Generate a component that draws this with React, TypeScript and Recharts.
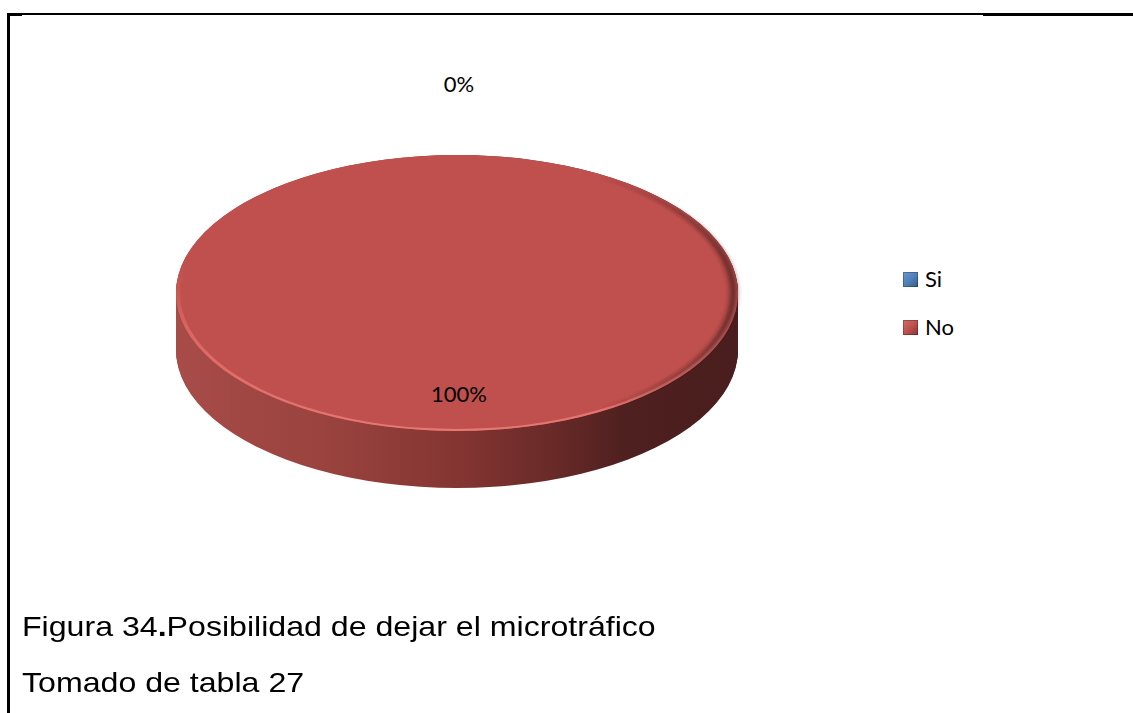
import { Cell, Legend, Pie, PieChart } from "recharts";

const CATEGORIES = ["Si", "No"];
const VALUES = [0, 100];
const COLORS = ["#4F81BD", "#C0504D"];
const CAPTION = "Figura 34";
const CAPTION_REST = "Posibilidad de dejar el microtráfico";
const SOURCE = "Tomado de tabla 27";

const data = CATEGORIES.map((name, i) => ({ name, value: VALUES[i] }));

const W = 1133;
const H = 713;
const CX = 457;
const CY = 293;
const R = 281;
const RY = 138;
const TILT = RY / R;
const DEPTH = 57;
const RADIAN = Math.PI / 180;
const NO_MARGIN = { top: 0, right: 0, bottom: 0, left: 0 };
// screen offsets for the stacked side layers, deepest first
const SIDE_LAYERS = Array.from({ length: DEPTH + 1 }, (_, i) => DEPTH - i);

const renderLabel = (p: any) => {
  const a = -p.midAngle * RADIAN;
  const inside = p.percent > 0.5;
  const rx = inside ? R * 0.735 : R + 71;
  const ry = inside ? RY * 0.735 : RY + 71;
  const x = p.cx + Math.cos(a) * rx + 2;
  const y = p.cy + Math.sin(a) * ry;
  return (
    <text
      key={`lbl-${p.index}`}
      x={x}
      y={y + 8}
      textAnchor="middle"
      fill="#000"
      fontSize={22}
      fontFamily="Lato, 'Open Sans', sans-serif"
    >
      {`${Math.round(p.percent * 100)}%`}
    </text>
  );
};

const renderLegend = ({ payload }: any) => {
  const items = [...(payload ?? [])].sort(
    (a: any, b: any) => CATEGORIES.indexOf(a.value) - CATEGORIES.indexOf(b.value)
  );
  return (
    <ul style={{ listStyle: "none", margin: 0, padding: 0 }}>
      {items.map((e: any, i: number) => (
        <li
          key={`leg-${i}`}
          style={{ display: "flex", alignItems: "center", height: 16, marginBottom: 32 }}
        >
          <span
            style={{
              display: "inline-block",
              width: 15,
              height: 15,
              marginRight: 7,
              background: `linear-gradient(135deg, rgba(255,255,255,0.18), rgba(0,0,0,0) 50%, rgba(0,0,0,0.3)), ${e.color ?? COLORS[i]}`,
              boxShadow: "inset 0 0 0 1px rgba(0,0,0,0.25)",
            }}
          />
          <span
            style={{
              fontFamily: "Lato, 'Open Sans', sans-serif",
              fontSize: 22,
              lineHeight: "16px",
              color: "#000",
            }}
          >
            {e.value}
          </span>
        </li>
      ))}
    </ul>
  );
};

export default function App() {
  return (
    <div
      style={{
        position: "absolute",
        left: 0,
        top: 0,
        width: W,
        height: H,
        background: "#fff",
        overflow: "hidden",
      }}
    >
      {/* page frame */}
      <div style={{ position: "absolute", left: 7, top: 13, width: 3, height: 700, background: "#000" }} />
      <div style={{ position: "absolute", left: 7, top: 13, width: 976, height: 2, background: "#000" }} />
      <div style={{ position: "absolute", left: 7, top: 13, width: 15, height: 3, background: "#000" }} />
      <div style={{ position: "absolute", left: 983, top: 13, width: 150, height: 3, background: "#000" }} />

      {/* tilted pie body */}
      <div
        style={{
          position: "absolute",
          left: 0,
          top: 0,
          transform: `scaleY(${TILT})`,
          transformOrigin: `0 ${CY}px`,
        }}
      >
        <PieChart width={W} height={H} margin={NO_MARGIN}>
          <defs>
            <linearGradient id="side" x1="0" y1="0" x2="1" y2="0">
              <stop offset="0" stopColor="#A84C48" />
              <stop offset="0.3" stopColor="#97413D" />
              <stop offset="0.5" stopColor="#843532" />
              <stop offset="0.68" stopColor="#672927" />
              <stop offset="0.8" stopColor="#4E201F" />
              <stop offset="1" stopColor="#4A1E1E" />
            </linearGradient>
            <linearGradient id="rim" x1="0" y1="0" x2="0" y2="1">
              <stop offset="0" stopColor="#E5716D" stopOpacity={0} />
              <stop offset="0.4" stopColor="#E5716D" stopOpacity={0} />
              <stop offset="0.65" stopColor="#E5716D" stopOpacity={0.7} />
              <stop offset="1" stopColor="#EA7A76" stopOpacity={0.95} />
            </linearGradient>
            <linearGradient id="shade" x1="0" y1="0" x2="1" y2="0">
              <stop offset="0" stopColor="#4A1E1E" stopOpacity={0} />
              <stop offset="0.75" stopColor="#4A1E1E" stopOpacity={0} />
              <stop offset="0.92" stopColor="#4A1E1E" stopOpacity={0.5} />
              <stop offset="1" stopColor="#4A1E1E" stopOpacity={0.8} />
            </linearGradient>
            <filter id="soft" x="-5%" y="-5%" width="110%" height="110%">
              <feGaussianBlur stdDeviation="2.5" />
            </filter>
          </defs>
          {SIDE_LAYERS.map((d) => (
            <Pie
              key={`side-${d}`}
              data={data}
              dataKey="value"
              nameKey="name"
              cx={CX}
              cy={CY + d / TILT}
              outerRadius={R}
              startAngle={90}
              endAngle={-270}
              fill="url(#side)"
              stroke="none"
              legendType="none"
              isAnimationActive={false}
            />
          ))}
          <Pie
            data={data}
            dataKey="value"
            nameKey="name"
            cx={CX}
            cy={CY}
            outerRadius={R}
            startAngle={90}
            endAngle={-270}
            stroke="none"
            legendType="none"
            isAnimationActive={false}
          >
            {data.map((d, i) => (
              <Cell key={d.name} fill={COLORS[i]} />
            ))}
          </Pie>
          <Pie
            data={data}
            dataKey="value"
            nameKey="name"
            cx={CX}
            cy={CY}
            innerRadius={R - 4}
            outerRadius={R}
            startAngle={90}
            endAngle={-270}
            fill="url(#rim)"
            stroke="none"
            legendType="none"
            isAnimationActive={false}
          />
          <Pie
            data={data}
            dataKey="value"
            nameKey="name"
            cx={CX}
            cy={CY}
            innerRadius={R - 8}
            outerRadius={R - 1}
            startAngle={90}
            endAngle={-270}
            fill="url(#shade)"
            filter="url(#soft)"
            stroke="none"
            legendType="none"
            isAnimationActive={false}
          />
        </PieChart>
      </div>

      {/* labels and legend, not tilted */}
      <div style={{ position: "absolute", left: 0, top: 0 }}>
        <PieChart width={W} height={H} margin={NO_MARGIN}>
          <Pie
            data={data}
            dataKey="value"
            nameKey="name"
            cx={CX}
            cy={CY}
            outerRadius={R}
            startAngle={90}
            endAngle={-270}
            stroke="none"
            label={renderLabel}
            labelLine={false}
            isAnimationActive={false}
          >
            {data.map((d, i) => (
              <Cell key={d.name} fill={COLORS[i]} fillOpacity={0} />
            ))}
          </Pie>
          <Legend
            layout="vertical"
            align="right"
            verticalAlign="top"
            content={renderLegend}
            wrapperStyle={{ position: "absolute", left: 903, top: 271, width: 120, right: "auto" }}
          />
        </PieChart>
      </div>

      {/* caption */}
      <div
        style={{
          position: "absolute",
          left: 22,
          top: 613,
          fontFamily: "'Liberation Sans', Arial, sans-serif",
          fontSize: 28,
          lineHeight: "28px",
          color: "#000",
          whiteSpace: "nowrap",
          transform: "scaleX(1.147)",
          transformOrigin: "0 0",
        }}
      >
        {CAPTION}
        <b>.</b>
        {CAPTION_REST}
      </div>
      <div
        style={{
          position: "absolute",
          left: 22,
          top: 669,
          fontFamily: "'Liberation Sans', Arial, sans-serif",
          fontSize: 28,
          lineHeight: "28px",
          color: "#000",
          whiteSpace: "nowrap",
          transform: "scaleX(1.147)",
          transformOrigin: "0 0",
        }}
      >
        {SOURCE}
      </div>
    </div>
  );
}
